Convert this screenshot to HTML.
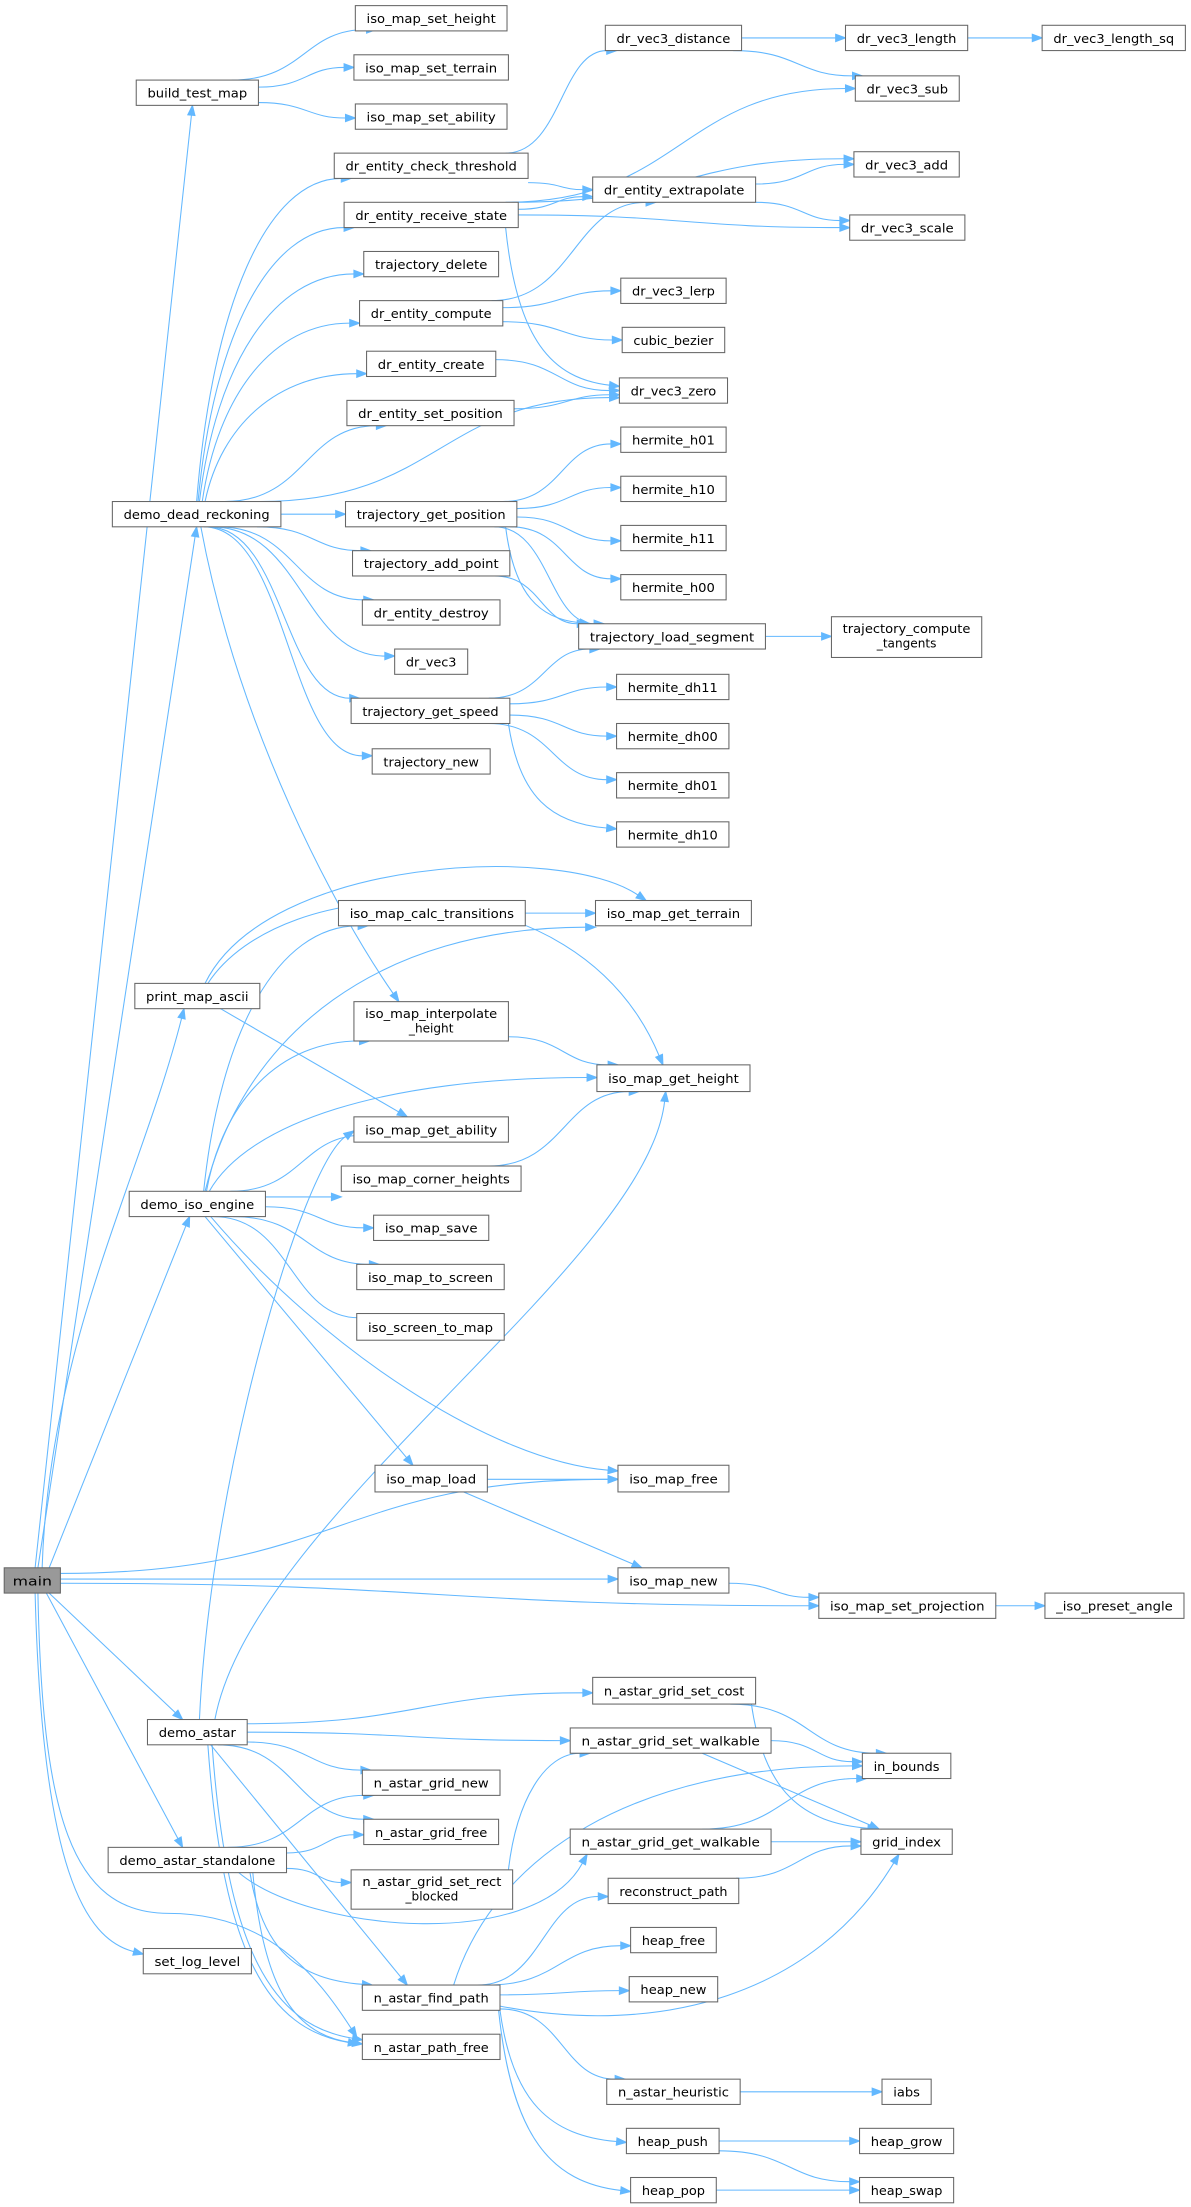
<!DOCTYPE html>
<html><head><meta charset="utf-8"><style>
html,body{margin:0;padding:0;background:#fff;width:1191px;height:2207px;overflow:hidden}
svg{display:block}
rect{fill:#fff;stroke:#666;stroke-width:0.75}
text{font-family:"DejaVu Sans","Liberation Sans",sans-serif;font-size:8.6px;fill:#000;text-anchor:middle}
.e{fill:none;stroke:#63b8ff;stroke-width:0.75}
.a{fill:#63b8ff;stroke:#63b8ff;stroke-width:0.75}
</style></head><body>
<svg id="s" xmlns="http://www.w3.org/2000/svg" width="1191" height="2207" viewBox="0 0 848 1571" preserveAspectRatio="none">
<g id="edges"></g>
<g id="nodes">
<rect x="3" y="1116" width="40" height="18" style="fill:#999"/><text x="23" y="1128.5" textLength="28" lengthAdjust="spacingAndGlyphs">main</text>
<rect x="97" y="57" width="87" height="18"/><text x="140.5" y="69.5" textLength="71" lengthAdjust="spacingAndGlyphs">build_test_map</text>
<rect x="253" y="4" width="108" height="18"/><text x="307" y="16.5" textLength="92" lengthAdjust="spacingAndGlyphs">iso_map_set_height</text>
<rect x="252" y="39" width="110" height="18"/><text x="307" y="51.5" textLength="94" lengthAdjust="spacingAndGlyphs">iso_map_set_terrain</text>
<rect x="253" y="74" width="108" height="18"/><text x="307" y="86.5" textLength="92" lengthAdjust="spacingAndGlyphs">iso_map_set_ability</text>
<rect x="238" y="109" width="138" height="18"/><text x="307" y="121.5" textLength="122" lengthAdjust="spacingAndGlyphs">dr_entity_check_threshold</text>
<rect x="245" y="144" width="124" height="18"/><text x="307" y="156.5" textLength="108" lengthAdjust="spacingAndGlyphs">dr_entity_receive_state</text>
<rect x="259" y="179" width="96" height="18"/><text x="307" y="191.5" textLength="80" lengthAdjust="spacingAndGlyphs">trajectory_delete</text>
<rect x="256" y="214" width="102" height="18"/><text x="307" y="226.5" textLength="86" lengthAdjust="spacingAndGlyphs">dr_entity_compute</text>
<rect x="261" y="250" width="92" height="18"/><text x="307" y="262.5" textLength="76" lengthAdjust="spacingAndGlyphs">dr_entity_create</text>
<rect x="247" y="285" width="119" height="18"/><text x="306.5" y="297.5" textLength="103" lengthAdjust="spacingAndGlyphs">dr_entity_set_position</text>
<rect x="80" y="357" width="120" height="18"/><text x="140" y="369.5" textLength="104" lengthAdjust="spacingAndGlyphs">demo_dead_reckoning</text>
<rect x="246" y="357" width="122" height="18"/><text x="307" y="369.5" textLength="106" lengthAdjust="spacingAndGlyphs">trajectory_get_position</text>
<rect x="251" y="392" width="112" height="18"/><text x="307" y="404.5" textLength="96" lengthAdjust="spacingAndGlyphs">trajectory_add_point</text>
<rect x="258" y="427" width="98" height="18"/><text x="307" y="439.5" textLength="82" lengthAdjust="spacingAndGlyphs">dr_entity_destroy</text>
<rect x="281" y="462" width="52" height="18"/><text x="307" y="474.5" textLength="36" lengthAdjust="spacingAndGlyphs">dr_vec3</text>
<rect x="250" y="497" width="113" height="18"/><text x="306.5" y="509.5" textLength="97" lengthAdjust="spacingAndGlyphs">trajectory_get_speed</text>
<rect x="265" y="533" width="84" height="18"/><text x="307" y="545.5" textLength="68" lengthAdjust="spacingAndGlyphs">trajectory_new</text>
<rect x="431" y="18" width="97" height="18"/><text x="479.5" y="30.5" textLength="81" lengthAdjust="spacingAndGlyphs">dr_vec3_distance</text>
<rect x="602" y="18" width="87" height="18"/><text x="645.5" y="30.5" textLength="71" lengthAdjust="spacingAndGlyphs">dr_vec3_length</text>
<rect x="742" y="18" width="102" height="18"/><text x="793" y="30.5" textLength="86" lengthAdjust="spacingAndGlyphs">dr_vec3_length_sq</text>
<rect x="609" y="54" width="74" height="18"/><text x="646" y="66.5" textLength="58" lengthAdjust="spacingAndGlyphs">dr_vec3_sub</text>
<rect x="608" y="108" width="75" height="18"/><text x="645.5" y="120.5" textLength="59" lengthAdjust="spacingAndGlyphs">dr_vec3_add</text>
<rect x="422" y="126" width="116" height="18"/><text x="480" y="138.5" textLength="100" lengthAdjust="spacingAndGlyphs">dr_entity_extrapolate</text>
<rect x="605" y="153" width="82" height="18"/><text x="646" y="165.5" textLength="66" lengthAdjust="spacingAndGlyphs">dr_vec3_scale</text>
<rect x="442" y="198" width="75" height="18"/><text x="479.5" y="210.5" textLength="59" lengthAdjust="spacingAndGlyphs">dr_vec3_lerp</text>
<rect x="443" y="233" width="73" height="18"/><text x="479.5" y="245.5" textLength="57" lengthAdjust="spacingAndGlyphs">cubic_bezier</text>
<rect x="441" y="269" width="77" height="18"/><text x="479.5" y="281.5" textLength="61" lengthAdjust="spacingAndGlyphs">dr_vec3_zero</text>
<rect x="442" y="304" width="75" height="18"/><text x="479.5" y="316.5" textLength="59" lengthAdjust="spacingAndGlyphs">hermite_h01</text>
<rect x="442" y="339" width="75" height="18"/><text x="479.5" y="351.5" textLength="59" lengthAdjust="spacingAndGlyphs">hermite_h10</text>
<rect x="442" y="374" width="75" height="18"/><text x="479.5" y="386.5" textLength="59" lengthAdjust="spacingAndGlyphs">hermite_h11</text>
<rect x="442" y="409" width="75" height="18"/><text x="479.5" y="421.5" textLength="59" lengthAdjust="spacingAndGlyphs">hermite_h00</text>
<rect x="412" y="444" width="133" height="18"/><text x="478.5" y="456.5" textLength="117" lengthAdjust="spacingAndGlyphs">trajectory_load_segment</text>
<rect x="592" y="439" width="107" height="29"/><text x="645.5" y="450.5" textLength="91" lengthAdjust="spacingAndGlyphs">trajectory_compute</text><text x="645.5" y="461">_tangents</text>
<rect x="439" y="480" width="80" height="18"/><text x="479" y="492.5" textLength="64" lengthAdjust="spacingAndGlyphs">hermite_dh11</text>
<rect x="439" y="515" width="80" height="18"/><text x="479" y="527.5" textLength="64" lengthAdjust="spacingAndGlyphs">hermite_dh00</text>
<rect x="439" y="550" width="80" height="18"/><text x="479" y="562.5" textLength="64" lengthAdjust="spacingAndGlyphs">hermite_dh01</text>
<rect x="439" y="585" width="80" height="18"/><text x="479" y="597.5" textLength="64" lengthAdjust="spacingAndGlyphs">hermite_dh10</text>
<rect x="241" y="641" width="133" height="18"/><text x="307.5" y="653.5" textLength="117" lengthAdjust="spacingAndGlyphs">iso_map_calc_transitions</text>
<rect x="424" y="641" width="111" height="18"/><text x="479.5" y="653.5" textLength="95" lengthAdjust="spacingAndGlyphs">iso_map_get_terrain</text>
<rect x="96" y="700" width="89" height="18"/><text x="140.5" y="712.5" textLength="73" lengthAdjust="spacingAndGlyphs">print_map_ascii</text>
<rect x="252" y="713" width="110" height="28"/><text x="307" y="724.5" textLength="94" lengthAdjust="spacingAndGlyphs">iso_map_interpolate</text><text x="307" y="735">_height</text>
<rect x="425" y="758" width="109" height="19"/><text x="479.5" y="771" textLength="93" lengthAdjust="spacingAndGlyphs">iso_map_get_height</text>
<rect x="252" y="795" width="110" height="18"/><text x="307" y="807.5" textLength="94" lengthAdjust="spacingAndGlyphs">iso_map_get_ability</text>
<rect x="243" y="830" width="128" height="18"/><text x="307" y="842.5" textLength="112" lengthAdjust="spacingAndGlyphs">iso_map_corner_heights</text>
<rect x="92" y="848" width="97" height="18"/><text x="140.5" y="860.5" textLength="81" lengthAdjust="spacingAndGlyphs">demo_iso_engine</text>
<rect x="266" y="865" width="82" height="18"/><text x="307" y="877.5" textLength="66" lengthAdjust="spacingAndGlyphs">iso_map_save</text>
<rect x="254" y="900" width="105" height="18"/><text x="306.5" y="912.5" textLength="89" lengthAdjust="spacingAndGlyphs">iso_map_to_screen</text>
<rect x="254" y="935" width="105" height="19"/><text x="306.5" y="948" textLength="89" lengthAdjust="spacingAndGlyphs">iso_screen_to_map</text>
<rect x="267" y="1043" width="80" height="19"/><text x="307" y="1056" textLength="64" lengthAdjust="spacingAndGlyphs">iso_map_load</text>
<rect x="440" y="1043" width="79" height="19"/><text x="479.5" y="1056" textLength="63" lengthAdjust="spacingAndGlyphs">iso_map_free</text>
<rect x="440" y="1116" width="79" height="18"/><text x="479.5" y="1128.5" textLength="63" lengthAdjust="spacingAndGlyphs">iso_map_new</text>
<rect x="583" y="1134" width="126" height="18"/><text x="646" y="1146.5" textLength="110" lengthAdjust="spacingAndGlyphs">iso_map_set_projection</text>
<rect x="744" y="1134" width="99" height="18"/><text x="793.5" y="1146.5" textLength="83" lengthAdjust="spacingAndGlyphs">_iso_preset_angle</text>
<rect x="422" y="1194" width="116" height="19"/><text x="480" y="1207" textLength="100" lengthAdjust="spacingAndGlyphs">n_astar_grid_set_cost</text>
<rect x="105" y="1224" width="71" height="18"/><text x="140.5" y="1236.5" textLength="55" lengthAdjust="spacingAndGlyphs">demo_astar</text>
<rect x="406" y="1230" width="143" height="18"/><text x="477.5" y="1242.5" textLength="127" lengthAdjust="spacingAndGlyphs">n_astar_grid_set_walkable</text>
<rect x="614" y="1248" width="63" height="18"/><text x="645.5" y="1260.5" textLength="47" lengthAdjust="spacingAndGlyphs">in_bounds</text>
<rect x="258" y="1260" width="98" height="18"/><text x="307" y="1272.5" textLength="82" lengthAdjust="spacingAndGlyphs">n_astar_grid_new</text>
<rect x="259" y="1295" width="96" height="18"/><text x="307" y="1307.5" textLength="80" lengthAdjust="spacingAndGlyphs">n_astar_grid_free</text>
<rect x="406" y="1302" width="143" height="18"/><text x="477.5" y="1314.5" textLength="127" lengthAdjust="spacingAndGlyphs">n_astar_grid_get_walkable</text>
<rect x="613" y="1302" width="65" height="18"/><text x="645.5" y="1314.5" textLength="49" lengthAdjust="spacingAndGlyphs">grid_index</text>
<rect x="77" y="1315" width="127" height="18"/><text x="140.5" y="1327.5" textLength="111" lengthAdjust="spacingAndGlyphs">demo_astar_standalone</text>
<rect x="250" y="1331" width="115" height="28"/><text x="307.5" y="1342.5" textLength="99" lengthAdjust="spacingAndGlyphs">n_astar_grid_set_rect</text><text x="307.5" y="1353">_blocked</text>
<rect x="433" y="1337" width="93" height="18"/><text x="479.5" y="1349.5" textLength="77" lengthAdjust="spacingAndGlyphs">reconstruct_path</text>
<rect x="449" y="1372" width="61" height="18"/><text x="479.5" y="1384.5" textLength="45" lengthAdjust="spacingAndGlyphs">heap_free</text>
<rect x="102" y="1387" width="77" height="18"/><text x="140.5" y="1399.5" textLength="61" lengthAdjust="spacingAndGlyphs">set_log_level</text>
<rect x="448" y="1407" width="63" height="18"/><text x="479.5" y="1419.5" textLength="47" lengthAdjust="spacingAndGlyphs">heap_new</text>
<rect x="258" y="1413" width="98" height="18"/><text x="307" y="1425.5" textLength="82" lengthAdjust="spacingAndGlyphs">n_astar_find_path</text>
<rect x="258" y="1448" width="98" height="18"/><text x="307" y="1460.5" textLength="82" lengthAdjust="spacingAndGlyphs">n_astar_path_free</text>
<rect x="432" y="1480" width="95" height="18"/><text x="479.5" y="1492.5" textLength="79" lengthAdjust="spacingAndGlyphs">n_astar_heuristic</text>
<rect x="628" y="1480" width="35" height="18"/><text x="645.5" y="1492.5" textLength="19" lengthAdjust="spacingAndGlyphs">iabs</text>
<rect x="446" y="1515" width="66" height="18"/><text x="479" y="1527.5" textLength="50" lengthAdjust="spacingAndGlyphs">heap_push</text>
<rect x="612" y="1515" width="67" height="18"/><text x="645.5" y="1527.5" textLength="51" lengthAdjust="spacingAndGlyphs">heap_grow</text>
<rect x="449" y="1550" width="61" height="18"/><text x="479.5" y="1562.5" textLength="45" lengthAdjust="spacingAndGlyphs">heap_pop</text>
<rect x="612" y="1550" width="67" height="18"/><text x="645.5" y="1562.5" textLength="51" lengthAdjust="spacingAndGlyphs">heap_swap</text>
</g>
</svg>
<script>
var E=[
[25,1116,137,75,'s'],[27,1116,140,375,'s'],[30,1116,131,718,'q'],[35,1116,135,866,'s'],
[43,1120,440,1053,'h'],[43,1124,440,1124,'h'],[43,1127,583,1143,'h'],[35,1134,130,1224,'s'],
[33,1134,130,1315,'s'],[25,1134,102,1391,'c',[30,1330],[60,1380]],
[27,1134,254,1450,'m',[30,1290],[50,1362],[120,1362],[190,1362],[225,1405]],
[140,357,250,127,'v'],[141,357,252,162,'v'],[142,357,259,195,'v'],[144,357,256,230,'v'],[146,357,261,266,'v'],
[160,357,275,303,'h'],[185,357,441,283,'h'],[200,366,246,366,'h'],[183,375,264,392,'h'],[155,375,266,427,'h'],
[150,375,281,467,'h'],[148,375,256,497,'h'],[145,375,265,538,'h'],[143,375,284,713,'c',[170,520],[240,650]],
[165,57,268,21,'h'],[184,62,252,48,'h'],[184,73,253,84,'h'],
[360,109,439,36,'h'],[376,130,422,135,'h'],
[360,144,609,63,'h'],[365,144,608,113,'h'],[369,149,422,140,'h'],[369,153,605,162,'h'],[360,162,441,275,'d'],
[350,214,467,144,'h'],[358,219,442,207,'h'],[358,229,443,242,'h'],
[353,256,441,278,'h'],[366,291,441,281,'h'],
[528,27,602,27,'h'],[522,36,614,54,'h'],[689,27,742,27,'h'],
[538,131,608,117,'h'],[538,144,605,157,'h'],
[358,357,442,316,'h'],[368,362,442,347,'h'],[368,368,442,385,'h'],[363,375,442,412,'h'],
[352,375,430,444,'h'],[360,375,420,444,'d'],[352,410,418,444,'h'],
[545,453,592,453,'h'],
[348,497,427,462,'h'],[363,501,439,489,'h'],[363,509,439,524,'h'],[348,515,439,555,'h'],[362,515,439,590,'d'],
[146,700,460,641,'c',[190,610],[400,600]],[148,700,472,758,'c',[200,620],[410,610]],[157,718,290,795,'s'],
[374,650,424,650,'h'],
[145,848,262,659,'v'],[146,848,424,660,'v'],[147,848,263,741,'v'],[149,848,425,767,'v'],[164,848,266,808,'h'],
[189,852,243,852,'h'],[189,859,266,874,'h'],[166,866,270,900,'h'],[152,866,262,938,'h'],[146,866,294,1043,'s'],
[150,866,440,1047,'c',[230,960],[350,1040]],
[362,738,440,758,'h'],[348,830,455,777,'h'],
[142,1224,252,805,'c',[150,1050],[215,830]],[153,1224,474,777,'c',[180,1080],[460,900]],
[347,1053,440,1053,'h'],[330,1062,457,1116,'s'],
[519,1127,583,1137,'h'],[709,1143,744,1143,'h'],
[176,1227,422,1205,'h'],[176,1233,406,1239,'h'],[176,1240,264,1260,'h'],[155,1242,266,1295,'h'],
[150,1242,290,1413,'s'],[148,1242,255,1455,'d'],[151,1242,258,1452,'d'],
[162,1315,266,1278,'h'],[204,1319,259,1306,'h'],[204,1330,250,1340,'h'],[170,1333,418,1320,'c',[220,1375],[380,1390]],
[178,1333,265,1413,'d'],[180,1333,258,1455,'d'],
[362,1331,420,1248,'v'],
[520,1213,631,1248,'h'],[535,1213,625,1302,'d'],[549,1239,614,1254,'h'],[500,1248,626,1302,'s'],
[500,1302,617,1266,'h'],[549,1311,613,1311,'h'],[524,1337,613,1314,'h'],
[323,1413,614,1257,'v'],[340,1413,433,1350,'h'],[347,1413,449,1385,'h'],[356,1420,448,1417,'h'],
[356,1428,640,1320,'c',[470,1450],[580,1420]],[356,1430,445,1480,'h'],[356,1431,446,1525,'d'],[355,1431,449,1560,'d'],
[527,1489,628,1489,'h'],[512,1524,612,1524,'h'],[512,1531,612,1553,'h'],[510,1559,612,1559,'h']
];
var g=document.getElementById('edges'),out='';
function f(p){return p[0].toFixed(1)+','+p[1].toFixed(1);}
E.forEach(function(e){
 var sx=e[0],sy=e[1],ex=e[2],ey=e[3],m=e[4],dx=ex-sx,dy=ey-sy,c1,c2,pre='';
 if(m=='h'){c1=[sx+dx*0.5,sy];c2=[ex-dx*0.5,ey];}
 else if(m=='v'){c1=[sx+dx*0.1,sy+dy*0.6];c2=[ex-dx*0.55,ey];}
 else if(m=='d'){c1=[sx+dx*0.1,sy+dy*0.7];c2=[ex-dx*0.6,ey-dy*0.05];}
 else if(m=='q'){c1=[sx+dx*0.05,sy+dy*0.4];c2=[ex-dx*0.3,ey-dy*0.3];}
 else if(m=='c'){c1=e[5];c2=e[6];}
 else if(m=='m'){pre=' C'+f(e[5])+' '+f(e[6])+' '+f(e[7]);var mid=e[7];c1=e[8];c2=e[9];sx=mid[0];sy=mid[1];}
 else {c1=[sx+dx/3,sy+dy/3];c2=[sx+dx*2/3,sy+dy*2/3];}
 var vx=ex-c2[0],vy=ey-c2[1],L=Math.sqrt(vx*vx+vy*vy)||1;vx/=L;vy/=L;
 var al=7,aw=2.6,bx=ex-vx*al,by=ey-vy*al;
 out+='<path class="e" d="M'+e[0]+','+e[1]+pre+' C'+f(c1)+' '+f(c2)+' '+bx.toFixed(1)+','+by.toFixed(1)+'"/>';
 out+='<polygon class="a" points="'+ex+','+ey+' '+(bx-vy*aw).toFixed(1)+','+(by+vx*aw).toFixed(1)+' '+(bx+vy*aw).toFixed(1)+','+(by-vx*aw).toFixed(1)+'"/>';
});
g.innerHTML=out;
</script>
</body></html>
